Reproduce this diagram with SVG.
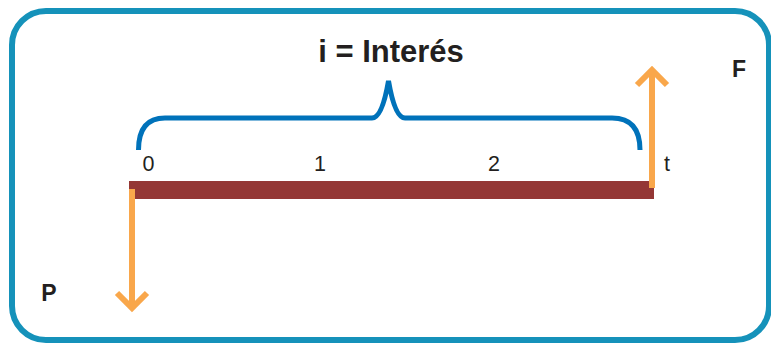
<svg xmlns="http://www.w3.org/2000/svg" width="771" height="343" viewBox="0 0 771 343">
<defs>
<style>
.frame{fill:none;stroke:#1592BA;stroke-width:6}
.brace{fill:none;stroke:#0072BA;stroke-width:5;stroke-linecap:butt}
.arrow{fill:none;stroke:#F9A74B;stroke-width:6}
.bar{fill:#943735}
.lbl{font-family:"Liberation Sans",Arial,sans-serif;fill:#231F20}
.num{font-size:21.5px}
.bold{font-weight:bold}
</style>
</defs>
<rect class="frame" x="12" y="11" width="757" height="329" rx="34" ry="34"/>
<g id="title"><text class="lbl bold" x="391" y="62" font-size="31" text-anchor="middle">i = Interés</text></g>
<g id="brace"><path class="brace" d="M138.5,150 Q138.5,118 165,118 L372,118 Q382,118 388.5,81 Q395,118 405,118 L612,118 Q640,118 640,150"/></g>
<g id="timeline">
<rect class="bar" x="129" y="181" width="525" height="18"/>
</g>
<g id="labels">
<text class="lbl num" x="148.5" y="171" text-anchor="middle">0</text>
<text class="lbl num" x="320" y="171" text-anchor="middle">1</text>
<text class="lbl num" x="494" y="171" text-anchor="middle">2</text>
<text class="lbl num" x="667" y="171" text-anchor="middle">t</text>
</g>
<g id="connectors">
<g id="arrowP"><line class="arrow" x1="132" y1="189" x2="132" y2="307"/><polyline class="arrow" points="117,293 132,308 147,293"/></g>
<g id="arrowF"><line class="arrow" x1="652" y1="188" x2="652" y2="70"/><polyline class="arrow" points="637,85 652,70 667,85"/></g>
</g>
<g id="nodeF"><text class="lbl bold" x="739" y="77" font-size="23" text-anchor="middle">F</text></g>
<g id="nodeP"><text class="lbl bold" x="49" y="301" font-size="23" text-anchor="middle">P</text></g>
</svg>
